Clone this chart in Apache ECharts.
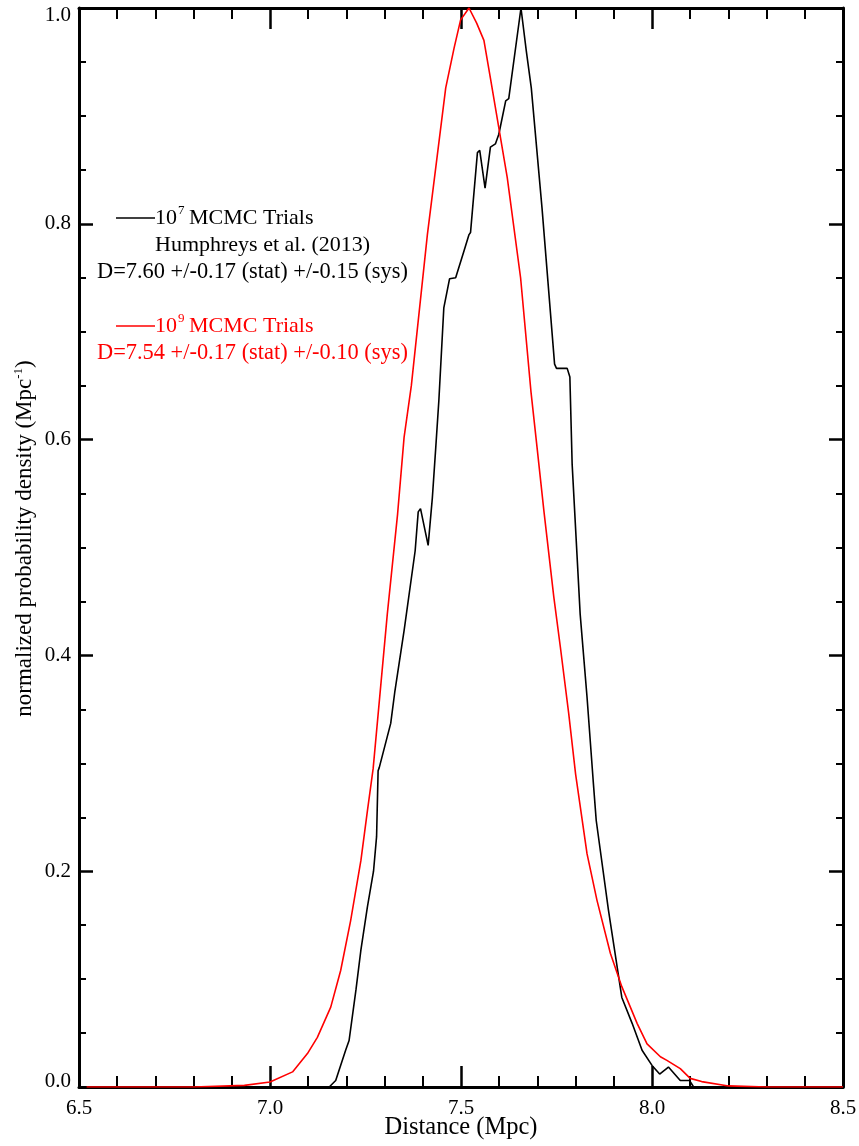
<!DOCTYPE html>
<html>
<head>
<meta charset="utf-8">
<script src="https://cdn.jsdelivr.net/npm/echarts@6/dist/echarts.min.js"></script>
<style>
html,body{margin:0;padding:0;background:#fff;}
#chart{width:859px;height:1146px;}
</style>
</head>
<body>
<div id="chart"></div>
<script>
// Black curve: 10^7 MCMC trials (Humphreys et al. 2013) — [distance, density]
var blackDist = [6.52,7.155,7.172,7.198,7.207,7.225,7.238,7.255,7.271,7.279,7.283,7.286,7.316,7.327,7.351,7.380,7.388,7.394,7.414,7.425,7.434,7.442,7.455,7.470,7.486,7.508,7.521,7.525,7.532,7.543,7.549,7.563,7.577,7.590,7.599,7.617,7.625,7.657,7.671,7.684,7.712,7.745,7.750,7.778,7.785,7.791,7.812,7.830,7.846,7.854,7.886,7.921,7.948,7.974,8.000,8.020,8.043,8.074,8.098,8.109,8.5];
var blackDens = [0,0,0.006,0.034,0.043,0.090,0.127,0.167,0.200,0.232,0.293,0.296,0.337,0.367,0.423,0.497,0.533,0.536,0.502,0.546,0.593,0.636,0.722,0.749,0.750,0.775,0.790,0.792,0.821,0.866,0.868,0.833,0.871,0.874,0.883,0.914,0.916,1.000,0.960,0.926,0.815,0.670,0.666,0.666,0.658,0.577,0.438,0.361,0.284,0.247,0.164,0.083,0.059,0.034,0.020,0.012,0.0185,0.006,0.006,0,0];

// Red curve: 10^9 MCMC trials
var redDist = [6.52,6.80,6.933,7.000,7.059,7.098,7.124,7.159,7.185,7.211,7.238,7.255,7.270,7.307,7.334,7.351,7.370,7.412,7.460,7.482,7.499,7.521,7.541,7.560,7.577,7.621,7.656,7.683,7.699,7.717,7.743,7.760,7.782,7.800,7.830,7.856,7.891,7.921,7.961,7.987,8.022,8.039,8.074,8.100,8.130,8.200,8.300,8.500];
var redDens = [0,0,0.0015,0.0046,0.014,0.031,0.046,0.074,0.108,0.154,0.210,0.256,0.295,0.438,0.531,0.602,0.650,0.790,0.926,0.963,0.989,1.000,0.986,0.970,0.935,0.843,0.750,0.645,0.593,0.534,0.454,0.408,0.346,0.290,0.216,0.173,0.124,0.093,0.059,0.040,0.028,0.0247,0.017,0.008,0.005,0.001,0,0];

var xTicks = ['6.5','7.0','7.5','8.0','8.5'];
var yTicks = ['0.0','0.2','0.4','0.6','0.8','1.0'];

var FONT = '"Liberation Serif", "Times New Roman", serif';

function pairs(xs, ys){ return xs.map(function(x,i){ return [x, ys[i]]; }); }

var chart = echarts.init(document.getElementById('chart'), null, {renderer:'canvas'});

function axisLine(){ return {show:true, onZero:false, lineStyle:{color:'#000', width:3}}; }
function xAx(pos, showLabel){
  return {
    type:'value', position:pos, min:6.5, max:8.5, interval:0.5,
    axisLine:axisLine(),
    axisTick:{show:true, inside:true, length:21, lineStyle:{color:'#000', width:2.5}},
    minorTick:{show:true, splitNumber:5, length:11, lineStyle:{color:'#000', width:2}},
    splitLine:{show:false}, minorSplitLine:{show:false},
    axisLabel:{show:showLabel, fontFamily:FONT, fontSize:21, color:'#000', margin:11,
      formatter:function(v){ return xTicks[Math.round((v-6.5)/0.5)]; }},
    name: showLabel ? 'Distance (Mpc)' : '',
    nameLocation:'middle', nameGap:28, nameMoveOverlap:false,
    nameTextStyle:{fontFamily:FONT, fontSize:24.5, color:'#000'}
  };
}
function yAx(pos, showLabel){
  return {
    type:'value', position:pos, min:0, max:1, interval:0.2,
    axisLine:axisLine(),
    axisTick:{show:true, inside:true, length:14, lineStyle:{color:'#000', width:2.5}},
    minorTick:{show:true, splitNumber:4, length:7, lineStyle:{color:'#000', width:2}},
    splitLine:{show:false}, minorSplitLine:{show:false},
    axisLabel:{show:showLabel, fontFamily:FONT, fontSize:21, color:'#000', margin:8,
      formatter:function(v){
        var i = Math.round(v/0.2), t = yTicks[i];
        if (i === 0) return '{bot|' + t + '}';
        if (i === yTicks.length - 1) return '{top|' + t + '}';
        return t;
      },
      rich:{
        bot:{fontFamily:FONT, fontSize:21, color:'#000', padding:[0,0,12,0]},
        top:{fontFamily:FONT, fontSize:21, color:'#000', padding:[14,0,0,0]}
      }},
    name: showLabel ? '{a|normalized probability density (Mpc}{s|-1}{a|)}' : '',
    nameLocation:'middle', nameGap:41, nameMoveOverlap:false,
    nameTextStyle:{fontFamily:FONT, fontSize:23, color:'#000', padding:[0,0,0,18],
      rich:{a:{fontFamily:FONT, fontSize:23, color:'#000', lineHeight:26},
            s:{fontFamily:FONT, fontSize:13, color:'#000', verticalAlign:'top', lineHeight:26}}}
  };
}

var legendFont = '22px ' + FONT;
var supFont = '13px ' + FONT;

chart.setOption({
  animation:false,
  backgroundColor:'#fff',
  grid:{left:79, right:16, top:8, bottom:59, containLabel:false, outerBoundsMode:'none'},
  xAxis:[xAx('bottom', true), xAx('top', false)],
  yAxis:[yAx('left', true), yAx('right', false)],
  series:[
    {type:'line', name:'1e7', xAxisIndex:0, yAxisIndex:0, data:pairs(blackDist, blackDens),
     showSymbol:false, symbol:'none', lineStyle:{color:'#000', width:1.6}, z:2},
    {type:'line', name:'1e9', xAxisIndex:0, yAxisIndex:0, data:pairs(redDist, redDens),
     showSymbol:false, symbol:'none', lineStyle:{color:'#ff0000', width:1.6}, z:3}
  ],
  graphic:[
    {type:'line', shape:{x1:116, y1:218, x2:155, y2:218}, style:{stroke:'#000', lineWidth:1.6}},
    {type:'text', x:155, y:218, style:{text:'10', font:legendFont, fill:'#000', verticalAlign:'middle'}},
    {type:'text', x:178, y:211, style:{text:'7', font:supFont, fill:'#000', verticalAlign:'middle'}},
    {type:'text', x:189, y:218, style:{text:'MCMC Trials', font:legendFont, fill:'#000', verticalAlign:'middle'}},
    {type:'text', x:155, y:245, style:{text:'Humphreys et al. (2013)', font:legendFont, fill:'#000', verticalAlign:'middle'}},
    {type:'text', x:97, y:272, style:{text:'D=7.60 +/-0.17 (stat) +/-0.15 (sys)', font:'22.4px ' + FONT, fill:'#000', verticalAlign:'middle'}},
    {type:'line', shape:{x1:116, y1:326, x2:155, y2:326}, style:{stroke:'#ff0000', lineWidth:1.6}},
    {type:'text', x:155, y:326, style:{text:'10', font:legendFont, fill:'#ff0000', verticalAlign:'middle'}},
    {type:'text', x:178, y:319, style:{text:'9', font:supFont, fill:'#ff0000', verticalAlign:'middle'}},
    {type:'text', x:189, y:326, style:{text:'MCMC Trials', font:legendFont, fill:'#ff0000', verticalAlign:'middle'}},
    {type:'text', x:97, y:353, style:{text:'D=7.54 +/-0.17 (stat) +/-0.10 (sys)', font:'22.4px ' + FONT, fill:'#ff0000', verticalAlign:'middle'}}
  ]
});
</script>
</body>
</html>
